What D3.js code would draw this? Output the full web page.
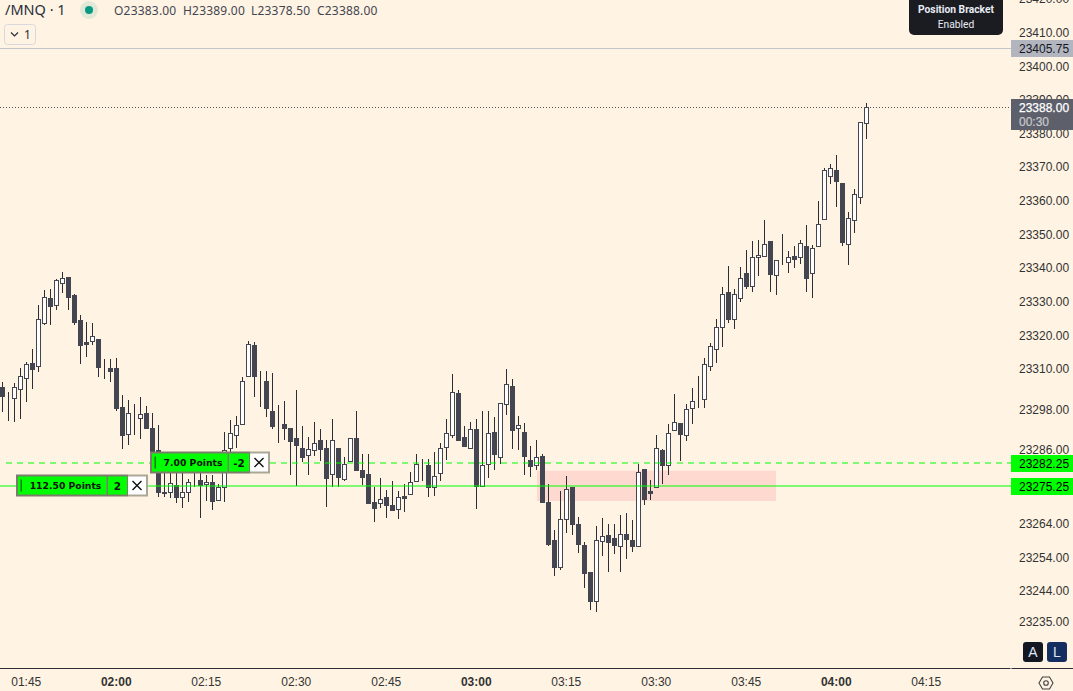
<!DOCTYPE html>
<html>
<head>
<meta charset="utf-8">
<script src="https://cdn.jsdelivr.net/npm/d3@7"></script>
<style>
  html, body { margin: 0; padding: 0; background: #fff3e3; overflow: hidden; }
  svg { display: block; }
  .axis-label { font-family: "Liberation Sans", Arial, sans-serif; font-size: 12px; fill: #333; }
</style>
</head>
<body>
<svg></svg>
<script>
let times = [
  "01:41","01:42","01:43","01:44","01:45","01:46","01:47","01:48","01:49","01:50",
  "01:51","01:52","01:53","01:54","01:55","01:56","01:57","01:58","01:59","02:00",
  "02:01","02:02","02:03","02:04","02:05","02:06","02:07","02:08","02:09","02:10",
  "02:11","02:12","02:13","02:14","02:15","02:16","02:17","02:18","02:19","02:20",
  "02:21","02:22","02:23","02:24","02:25","02:26","02:27","02:28","02:29","02:30",
  "02:31","02:32","02:33","02:34","02:35","02:36","02:37","02:38","02:39","02:40",
  "02:41","02:42","02:43","02:44","02:45","02:46","02:47","02:48","02:49","02:50",
  "02:51","02:52","02:53","02:54","02:55","02:56","02:57","02:58","02:59","03:00",
  "03:01","03:02","03:03","03:04","03:05","03:06","03:07","03:08","03:09","03:10",
  "03:11","03:12","03:13","03:14","03:15","03:16","03:17","03:18","03:19","03:20",
  "03:21","03:22","03:23","03:24","03:25","03:26","03:27","03:28","03:29","03:30",
  "03:31","03:32","03:33","03:34","03:35","03:36","03:37","03:38","03:39","03:40",
  "03:41","03:42","03:43","03:44","03:45","03:46","03:47","03:48","03:49","03:50",
  "03:51","03:52","03:53","03:54","03:55","03:56","03:57","03:58","03:59","04:00",
  "04:01","04:02","04:03","04:04","04:05"
]

// one row per ten minutes, same order as times
let opens = [
  23304.5,23301.75,23301.5,23304,23307.25,23311.75,23310.75,23323.75,23331,23329,
  23335.5,23337.25,23332,23324.5,23318,23318.25,23319,23310.25,23310.25,23310.25,
  23298.75,23290.75,23296.5,23295.5,23297,23292.5,23286,23273,23273.5,23275.5,
  23272,23273.5,23276.5,23277,23275.75,23276.25,23271,23274.75,23286.5,23290.5,
  23293.5,23308,23317.25,23305.75,23306.5,23297.5,23294.25,23293.5,23292.5,23289.5,
  23286.5,23284.5,23286,23289,23286.5,23278.75,23286.5,23277.25,23282.5,23289.5,
  23280,23278.75,23270.5,23270,23272,23269.5,23268.5,23272.25,23272.75,23276.75,
  23282.25,23281.5,23274.75,23279,23286.75,23290.5,23302.75,23289.75,23286.5,23292,
  23275.25,23281.75,23291.25,23283.75,23299.5,23305,23292.5,23291.25,23283,23281.5,
  23284.25,23270.5,23259,23251,23265.25,23275,23264,23257.75,23249.75,23241,
  23258.75,23260.5,23259.75,23257.5,23261,23259,23257.5,23280.25,23273.75,23274.75,
  23286,23281.5,23291.75,23294,23290.25,23298.25,23301,23301,23311,23316,
  23322.5,23332.75,23324.75,23331,23338.5,23334.75,23343.25,23343.5,23348,23338,
  23342.5,23341.75,23343.5,23343.25,23346.5,23338.5,23346.5,23354.5,23367.5,23369.25,
  23365.25,23347.25,23354.25,23361,23383
]
let highs = [
  23306.25,23303.25,23305.75,23310.25,23312,23316,23329,23333.5,23333.75,23336.75,
  23338.75,23337.25,23332.25,23326,23324,23323.75,23319,23313,23313,23313.25,
  23302.25,23300.75,23299.5,23301.75,23299,23297,23293.25,23279.5,23279,23279,
  23279,23277.25,23279.5,23279,23278.5,23278.5,23275.75,23291.25,23294.75,23296,
  23307.5,23318.25,23318,23309.5,23309.25,23308.75,23299.25,23300.5,23292.5,23303.75,
  23293,23289.75,23294.25,23292,23289,23295,23286.5,23283.75,23289.5,23297.5,
  23284.75,23284.75,23275,23277.5,23274,23276.75,23273.75,23275.75,23279.5,23284.75,
  23283.25,23283.25,23285.25,23288,23295.25,23308.5,23303.75,23293,23294.25,23295,
  23297.5,23297.5,23295.75,23300,23310,23307,23296,23294,23287,23289,
  23284.75,23275.75,23262.25,23273.75,23278.25,23275,23266,23258.5,23249.75,23263.25,
  23265.75,23263.75,23264,23266.5,23267.25,23265,23281.75,23280.25,23277,23290.5,
  23286.25,23293.5,23302.5,23294,23299.5,23304.25,23308,23313.25,23317.75,23324.75,
  23334.25,23340.5,23333.75,23340.25,23345.5,23348,23348.25,23354.25,23348,23342.5,
  23350,23345,23346.5,23348.25,23352.75,23346.75,23360,23369.75,23371,23373.5,
  23365.25,23356.75,23363.5,23383.5,23389
]
let lows = [
  23297.25,23294.5,23294.25,23295.25,23300.25,23304,23309,23323,23323,23327.5,
  23332.5,23327.5,23323,23311.5,23313.5,23317,23307.5,23307,23306.25,23297.5,
  23286.25,23287.5,23290.5,23289.25,23292.5,23285,23272,23272,23271.5,23270,
  23268.75,23270.5,23275,23265.75,23270.75,23268,23271,23270.5,23281,23286.5,
  23293.25,23308,23301.75,23298.75,23295.75,23292,23288,23289,23278.5,23275.25,
  23282.25,23278.5,23284.25,23282.5,23269,23274.75,23275,23276.75,23282.5,23280,
  23275.5,23270,23264.5,23268.75,23265.75,23268,23265.25,23267.5,23272.75,23276.75,
  23276.75,23272,23272.25,23276.75,23283,23289.5,23288.5,23287,23286.5,23268.5,
  23275,23277.5,23280,23281.75,23296.25,23286.25,23285.75,23278.5,23277.75,23280,
  23270.5,23257.5,23248.5,23250.25,23261.25,23260.75,23255.25,23245,23238.25,23237.75,
  23254.5,23249.75,23255,23249.75,23253.5,23255.5,23257.5,23269.5,23271,23274.75,
  23275.75,23278.5,23291.5,23282.5,23288.5,23293.5,23298.25,23298.5,23309.5,23311.75,
  23316.5,23323.75,23322,23330,23333.75,23333,23337.75,23343.5,23333,23332,
  23341,23338.5,23340,23341.25,23333,23331,23346.5,23354.5,23365,23358,
  23346.5,23340.75,23350.5,23359,23378.5
]
let closes = [
  23302,23301.75,23304.75,23308,23311.5,23310,23324.75,23331.5,23328.75,23336.5,
  23337,23331.25,23324,23317.25,23317.5,23319.75,23310.5,23310.25,23309.5,23298.5,
  23290.25,23297,23296.5,23296.5,23292.5,23285.5,23273.5,23273.5,23276,23272,
  23273.5,23276.25,23276.5,23275.5,23276.5,23270.75,23275,23286,23291,23293.25,
  23306.5,23317.5,23308,23305.75,23298.25,23293,23294.25,23292.5,23288.5,23287.5,
  23283.75,23286.25,23288,23286.25,23277.5,23289,23277.75,23281.75,23289.5,23280,
  23277.75,23270.25,23268.75,23271.25,23269.5,23268,23272,23271.75,23276.5,23281.75,
  23282.25,23275,23278.25,23286.5,23291,23303,23289,23287,23292,23275.25,
  23281.5,23291,23284.75,23300,23305.5,23291.75,23293.25,23284,23281,23283.75,
  23270.5,23258,23251,23265.5,23274.25,23263.75,23258,23249.25,23241,23259,
  23260.25,23258.5,23257.75,23261,23259.5,23257.5,23279.5,23271.25,23273.25,23286.5,
  23281.5,23291,23294.25,23290.75,23298,23300.5,23301,23311.5,23316.75,23322.5,
  23332.25,23324.75,23332.25,23337,23334.75,23343.25,23343.75,23347.25,23338.25,23342.5,
  23342.5,23343.25,23342.75,23347.5,23337,23346,23353,23369,23369.75,23365.75,
  23347.75,23354.75,23362,23383.5,23388
]

let priceTicks = [23420,23410,23400,23390,23380,23370,23360,23350,23340,23330,23320,23310,23298,23286,23264,23254,23244,23235]
let timeTicks = ["01:45","02:00","02:15","02:30","02:45","03:00","03:15","03:30","03:45","04:00","04:15"]

let symbol = "/MNQ \u00b7 1"
let alertLevel = 23405.75
let stopLevel = 23282.25
let entryLevel = 23275.25
let zoneTimes = ["03:10","03:50"]
let zonePrices = [23279.75,23270.75]
let countdown = "00:30"

let width = 1073
let height = 691
let plotRight = 1011
let axisTop = 668

let dark = "#434651"
let wickColor = "#2a2e39"
let green = "#00ff00"

let parseTime = d3.timeParse("%H:%M")
let fmt = d3.format(".2f")

let svg = d3.select("svg").attr("width", width).attr("height", height)

let xScale = d3.scaleTime()
  .domain([parseTime("01:45"), parseTime("04:15")])
  .range([26.5, 926.5])

let yScale = d3.scaleLinear()
  .domain([23400, 23235])
  .range([66.2, 621.2])

let snapY = (p) => Math.round(yScale(p)) + 0.5

let candles = times.map((t, i) => ({
  x: xScale(parseTime(t)), o: opens[i], h: highs[i], l: lows[i], c: closes[i]
}))

// supply zone under the candles
svg.append("rect")
  .attr("x", xScale(parseTime(zoneTimes[0])) + 0.5)
  .attr("width", xScale(parseTime(zoneTimes[1])) - xScale(parseTime(zoneTimes[0])) - 1)
  .attr("y", yScale(zonePrices[0]))
  .attr("height", yScale(zonePrices[1]) - yScale(zonePrices[0]))
  .attr("fill", "#fdd9cf")

// candles
let candleG = svg.append("g").attr("shape-rendering", "crispEdges")

candleG.selectAll("line")
  .data(candles)
  .enter()
  .append("line")
  .attr("x1", (d) => d.x)
  .attr("x2", (d) => d.x)
  .attr("y1", (d) => yScale(d.h))
  .attr("y2", (d) => yScale(d.l))
  .attr("stroke", wickColor)

candleG.selectAll("rect")
  .data(candles)
  .enter()
  .append("rect")
  .attr("x", (d) => d.x - 2)
  .attr("width", 4)
  .attr("y", (d) => snapY(Math.max(d.o, d.c)))
  .attr("height", (d) => Math.abs(snapY(d.o) - snapY(d.c)))
  .attr("fill", (d) => d.c > d.o ? "#ffffff" : dark)
  .attr("stroke", dark)

// price lines, the alert line sits a little under its scale position in the reference
let alertY = Math.round(yScale(alertLevel) + 1.5) + 0.5
let stopY = Math.round(yScale(stopLevel) + 0.5)
let entryY = Math.round(yScale(entryLevel) + 0.5)

svg.append("line")
  .attr("x1", 0).attr("x2", plotRight)
  .attr("y1", alertY).attr("y2", alertY)
  .attr("stroke", "#c4c4cc")

svg.append("line")
  .attr("x1", 0).attr("x2", plotRight)
  .attr("y1", snapY(closes[closes.length - 1])).attr("y2", snapY(closes[closes.length - 1]))
  .attr("stroke", "#555")
  .attr("stroke-dasharray", "1 2")

svg.append("line")
  .attr("x1", 6).attr("x2", plotRight)
  .attr("y1", stopY).attr("y2", stopY)
  .attr("stroke", green).attr("stroke-opacity", 0.5).attr("stroke-width", 2)
  .attr("stroke-dasharray", "6 5")

svg.append("line")
  .attr("x1", 0).attr("x2", plotRight)
  .attr("y1", entryY).attr("y2", entryY)
  .attr("stroke", green).attr("stroke-opacity", 0.5).attr("stroke-width", 2)

// order tags sitting on the lines
let tagFont = "'DejaVu Sans', sans-serif"

let drawTag = (left, right, qtyLeft, xLeft, cy, points, qty) => {
  let g = svg.append("g")
  let top = cy - 11.5
  g.append("rect").attr("x", left).attr("y", top).attr("width", xLeft - left).attr("height", 22)
    .attr("fill", "#7d7d6c")
  g.append("rect").attr("x", xLeft).attr("y", top).attr("width", right - xLeft).attr("height", 22)
    .attr("fill", "#aba796")
  g.append("rect").attr("x", left + 2).attr("y", top + 2).attr("width", qtyLeft - left - 3.5).attr("height", 18)
    .attr("fill", green)
  g.append("rect").attr("x", qtyLeft).attr("y", top + 2).attr("width", xLeft - qtyLeft - 1).attr("height", 18)
    .attr("fill", green)
  g.append("rect").attr("x", xLeft).attr("y", top + 2).attr("width", right - xLeft - 2).attr("height", 18)
    .attr("fill", "#ffffff")
  g.append("rect").attr("x", left + 4.5).attr("y", top + 5).attr("width", 1.5).attr("height", 12)
    .attr("fill", "#0a7d0a")
  g.append("text").attr("x", (left + 10 + qtyLeft) / 2 - 1.5).attr("y", cy + 3)
    .attr("text-anchor", "middle")
    .style("font-family", tagFont).style("font-size", "9.25px").style("font-weight", 700)
    .attr("fill", "#111").text(points)
  g.append("text").attr("x", (qtyLeft + xLeft) / 2 - 0.5).attr("y", cy + 3.5)
    .attr("text-anchor", "middle")
    .style("font-family", tagFont).style("font-size", "10.5px").style("font-weight", 700)
    .attr("fill", "#111").text(qty)
  let mx = (xLeft + right - 2) / 2
  g.append("path")
    .attr("d", `M${mx - 4.5},${cy - 5}L${mx + 4.5},${cy + 4}M${mx + 4.5},${cy - 5}L${mx - 4.5},${cy + 4}`)
    .attr("stroke", "#111").attr("stroke-width", 1.4).attr("fill", "none")
}

drawTag(16, 148, 108, 128, entryY, "112.50 Points", "2")
drawTag(150, 270, 229, 250, stopY, "7.00 Points", "-2")

// axes
let yAxis = d3.axisRight(yScale)
  .tickValues(priceTicks)
  .tickSize(0)
  .tickPadding(8)
  .tickFormat(fmt)

svg.append("g")
  .attr("transform", "translate(" + plotRight + ",0)")
  .call(yAxis)
  .call((g) => g.select(".domain").remove())
  .selectAll("text")
  .attr("class", "axis-label")
  .attr("fill", "#333")

let xAxis = d3.axisBottom(xScale)
  .tickValues(timeTicks.map(parseTime))
  .tickSize(0)
  .tickPadding(9.5)
  .tickFormat(d3.timeFormat("%H:%M"))

svg.append("g")
  .attr("transform", "translate(-0.75," + axisTop + ")")
  .call(xAxis)
  .call((g) => g.select(".domain").remove())
  .selectAll("text")
  .attr("class", "axis-label")
  .attr("fill", "#333")
  .style("font-weight", (d) => d.getMinutes() === 0 ? 700 : 400)

svg.append("line").attr("x1", 0).attr("x2", plotRight - 0.5)
  .attr("y1", axisTop + 0.5).attr("y2", axisTop + 0.5).attr("stroke", wickColor)
svg.append("line").attr("x1", plotRight + 0.5).attr("x2", width)
  .attr("y1", axisTop + 0.5).attr("y2", axisTop + 0.5).attr("stroke", wickColor)

// price tags on the axis
let priceTag = (price, cy, fill, color) => {
  svg.append("rect").attr("x", plotRight).attr("y", cy - 8.5).attr("width", width - plotRight).attr("height", 17)
    .attr("fill", fill)
  svg.append("text").attr("class", "axis-label").attr("x", plotRight + 8).attr("y", cy + 4.5)
    .style("fill", color).text(fmt(price))
}

priceTag(alertLevel, alertY, "#b2b5be", "#131722")
priceTag(stopLevel, stopY + 0.5, green, "#000")
priceTag(entryLevel, entryY + 0.5, green, "#000")

let last = closes[closes.length - 1]
svg.append("rect").attr("x", plotRight).attr("y", 99).attr("width", width - plotRight).attr("height", 31)
  .attr("fill", "#5d606b")
svg.append("text").attr("class", "axis-label").attr("x", plotRight + 8).attr("y", yScale(last) + 5)
  .style("fill", "#ffffff").style("stroke", "#ffffff").style("stroke-width", 0.25).text(fmt(last))
svg.append("text").attr("class", "axis-label").attr("x", plotRight + 8).attr("y", 126)
  .style("fill", "#c8c9ce").style("stroke", "#c8c9ce").style("stroke-width", 0.2).text(countdown)

// header
let headerFont = "'Noto Sans', sans-serif"
svg.append("text").attr("x", 5).attr("y", 15)
  .style("font-family", headerFont).style("font-size", "14.5px").attr("fill", "#2a2e39").text(symbol)
svg.append("circle").attr("cx", 89).attr("cy", 10).attr("r", 9).attr("fill", "#089981").attr("opacity", 0.12)
svg.append("circle").attr("cx", 89).attr("cy", 10).attr("r", 4).attr("fill", "#089981")

let n = closes.length - 1
let ohlc = [["O", opens[n], 114], ["H", highs[n], 183], ["L", lows[n], 251], ["C", closes[n], 317]]
svg.selectAll(".ohlc")
  .data(ohlc)
  .enter()
  .append("text")
  .attr("class", "ohlc")
  .attr("x", (d) => d[2])
  .attr("y", 15)
  .style("font-family", headerFont).style("font-size", "12px").style("letter-spacing", "0.2px")
  .attr("fill", "#434651")
  .text((d) => d[0] + fmt(d[1]))

svg.append("rect").attr("x", 4.5).attr("y", 24.5).attr("width", 31).attr("height", 20).attr("rx", 3)
  .attr("fill", "none").attr("stroke", "#d9d8dc")
svg.append("path").attr("d", "M11,32.5L14.5,36L18,32.5").attr("fill", "none").attr("stroke", "#2a2e39").attr("stroke-width", 1.2)
svg.append("text").attr("x", 24).attr("y", 39)
  .style("font-family", headerFont).style("font-size", "12px").attr("fill", "#2a2e39").text("1")

// bracket tooltip
svg.append("rect").attr("x", 909).attr("y", -6).attr("width", 94).attr("height", 41).attr("rx", 5).attr("fill", "#1b1c22")
svg.append("text").attr("x", 956).attr("y", 13).attr("text-anchor", "middle")
  .style("font-family", "Roboto, sans-serif").style("font-size", "10.25px").style("font-weight", 700)
  .attr("fill", "#e8ecf5").text("Position Bracket")
svg.append("text").attr("x", 956).attr("y", 28).attr("text-anchor", "middle")
  .style("font-family", "Roboto, sans-serif").style("font-size", "10.25px")
  .attr("fill", "#e8ecf5").text("Enabled")

// auto / log buttons
let button = (x, label, fill) => {
  svg.append("rect").attr("x", x).attr("y", 642).attr("width", 20).attr("height", 20).attr("rx", 3).attr("fill", fill)
  svg.append("text").attr("x", x + 10).attr("y", 657).attr("text-anchor", "middle")
    .style("font-family", "'Liberation Sans', sans-serif").style("font-size", "14px").attr("fill", "#dfe6f5").text(label)
}
button(1023, "A", "#131722")
button(1047, "L", "#142e61")

// settings gear
let hex = d3.range(6).map((i) => {
  let a = Math.PI / 3 * i
  return (i ? "L" : "M") + (1046 + 7 * Math.cos(a)) + "," + (683 + 7 * Math.sin(a))
}).join("") + "Z"
svg.append("path").attr("d", hex).attr("fill", "none").attr("stroke", "#444").attr("stroke-width", 1.1)
svg.append("circle").attr("cx", 1046).attr("cy", 683).attr("r", 2.3).attr("fill", "none").attr("stroke", "#444").attr("stroke-width", 1.1)
</script>
</body>
</html>
